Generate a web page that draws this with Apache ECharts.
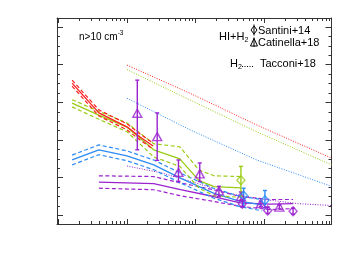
<!DOCTYPE html>
<html><head><meta charset="utf-8">
<script src="https://cdn.jsdelivr.net/npm/echarts@6/dist/echarts.min.js"></script>
<style>html,body{margin:0;padding:0;background:#fff}#c{width:349px;height:262px}</style>
</head><body><div id="c"></div>
<script>
// ---------- DATA (x = log10 stellar mass, y = log10 gas mass) ----------
const redLogM   = [9.20, 9.59, 10.00, 10.19, 10.38];
const redMid    = [11.51, 10.72, 10.35, 10.08, 9.84];
const redHi     = [11.59, 10.80, 10.43, 10.16, 9.92];
const redLo     = [11.43, 10.64, 10.27, 10.00, 9.76];

const greenLogM = [9.20, 9.59, 10.00, 10.39, 10.77, 11.05, 11.27, 11.66];
const greenMid  = [10.98, 10.66, 10.34, 9.74, 9.50, 8.92, 8.76, 8.73];
const greenHi   = [11.07, 10.76, 10.45, 9.90, 9.82, 9.20, 9.05, 9.03];
const greenLo   = [10.88, 10.55, 10.22, 9.55, 9.30, 8.72, 8.52, 8.48];

const blueLogM  = [9.20, 9.59, 10.00, 10.39, 10.78, 11.26, 11.65, 11.97];
const blueMid   = [9.47, 9.74, 9.58, 9.34, 8.99, 8.59, 8.37, 8.28];
const blueHi    = [9.60, 9.87, 9.71, 9.47, 9.12, 8.72, 8.50, 8.42];
const blueLo    = [9.34, 9.61, 9.45, 9.21, 8.86, 8.46, 8.23, 8.12];

const purpleLogM = [9.59, 10.39, 10.78, 11.26, 11.65, 12.09, 12.42];
const purpleMid  = [8.88, 8.84, 8.68, 8.50, 8.33, 8.30, 8.31];
const purpleHi   = [9.05, 9.03, 8.86, 8.68, 8.50, 8.42, 8.42];
const purpleLo   = [8.72, 8.68, 8.52, 8.37, 8.24, 8.15, 8.18];

// Tacconi+18 (H2 only, dotted)
const tacLogM    = [10.00, 10.92, 11.89, 12.98];
const tacRed     = [11.99, 11.24, 10.40, 9.52];
const tacGreen   = [11.87, 11.06, 10.22, 9.34];
const tacBlue    = [11.11, 10.27, 9.47, 8.77];
const tacPurpleLogM = [10.00, 10.50, 11.00, 11.50, 12.00, 12.50, 12.98];
const tacPurple     = [9.31, 9.13, 8.86, 8.58, 8.42, 8.31, 8.26];

// Catinella+18 (triangles) value, lower, upper
const catLogM = [10.15, 10.44, 10.75, 11.06, 11.34, 11.66, 11.95, 12.22];
const catVal  = [10.71, 10.09, 9.14, 9.10, 8.65, 8.50, 8.31, 8.22];
const catLo   = [9.74, 9.46, 8.90, 8.90, 8.50, 8.40, 8.24, 8.17];
const catHi   = [11.59, 10.72, 9.47, 9.39, 8.77, 8.62, 8.38, 8.28];

// Santini+14 (diamonds)
const santGreenLogM = [11.66];  const santGreenVal = [8.93];  const santGreenLo = [8.50];  const santGreenHi = [9.30];
const santBlueLogM  = [11.70, 12.01]; const santBlueVal = [8.52, 8.40]; const santBlueLo = [8.22, 8.20]; const santBlueHi = [8.72, 8.66];
const santPurpleLogM = [11.68, 12.05, 12.42]; const santPurpleVal = [8.31, 8.13, 8.11]; const santPurpleLo = [8.22, 8.05, 8.03]; const santPurpleHi = [8.40, 8.22, 8.19];

// axis ticks
const xMajorLog = [9, 10, 11, 12];
const xMinorMult = [2, 3, 4, 5, 6, 7, 8, 9];
const yMajor = [8, 9, 10, 11, 12, 13];

// ---------- CHART ----------
const RED = '#ff1f1f', GREEN = '#9acc14', BLUE = '#2b8cf5', PURPLE = '#9b22cf';
const FONT = '"Liberation Sans", Arial, sans-serif';
const NARROW = '"Liberation Sans Narrow", "Liberation Sans", Arial, sans-serif';
const X = l => Math.pow(10, l);
const pts = (xs, ys) => xs.map((l, i) => [X(l), ys[i]]);

const xMajor = xMajorLog.map(X);
const xMinor = [];
xMajorLog.forEach(d => xMinorMult.forEach(k => xMinor.push(k * X(d))));
const yMinor = [];
for (let v = 7.75; v <= 13.25; v += 0.25) { if (Math.abs(v - Math.round(v)) > 1e-6) yMinor.push(+v.toFixed(2)); }

const XMIN = X(8.98), XMAX = X(12.98), YMIN = 7.77, YMAX = 13.24;
const AX = '#333';

function xAx(pos, custom, len, line) {
  return { type: 'log', logBase: 10, min: XMIN, max: XMAX, position: pos, gridIndex: 0,
    axisLine: { show: line, lineStyle: { color: AX, width: 1 } },
    axisTick: { show: true, inside: true, length: len, customValues: custom, lineStyle: { color: AX, width: 1 } },
    axisLabel: { show: false }, splitLine: { show: false }, minorTick: { show: false } };
}
function yAx(pos, custom, len, line) {
  return { type: 'value', min: YMIN, max: YMAX, position: pos, gridIndex: 0,
    axisLine: { show: line, onZero: false, lineStyle: { color: AX, width: 1 } },
    axisTick: { show: true, inside: true, length: len, customValues: custom, lineStyle: { color: AX, width: 1 } },
    axisLabel: { show: false }, splitLine: { show: false } };
}

function line(xs, ys, color, type, width) {
  return { type: 'line', data: pts(xs, ys), symbol: 'none', silent: true, smooth: false,
    lineStyle: { color, width, type }, z: 3, xAxisIndex: 0, yAxisIndex: 0 };
}
function band(xs, mid, hi, lo, color) {
  return [line(xs, hi, color, [4, 2.5], 1.2), line(xs, lo, color, [4, 2.5], 1.2), line(xs, mid, color, 'solid', 1.3)];
}
function errBars(xs, val, lo, hi, color) {
  return { type: 'custom', xAxisIndex: 0, yAxisIndex: 0, silent: true, z: 4,
    data: xs.map((l, i) => [X(l), val[i], lo[i], hi[i]]),
    renderItem: (params, api) => {
      const a = api.coord([api.value(0), api.value(2)]);
      const b = api.coord([api.value(0), api.value(3)]);
      const st = { stroke: color, lineWidth: 1.4 };
      return { type: 'group', children: [
        { type: 'line', shape: { x1: a[0], y1: a[1], x2: b[0], y2: b[1] }, style: st },
        { type: 'line', shape: { x1: a[0] - 2, y1: a[1], x2: a[0] + 2, y2: a[1] }, style: st },
        { type: 'line', shape: { x1: b[0] - 2, y1: b[1], x2: b[0] + 2, y2: b[1] }, style: st }
      ] };
    } };
}
function markers(xs, val, color, symbol, size) {
  return { type: 'scatter', data: pts(xs, val), symbol, symbolSize: size, silent: true, z: 5,
    itemStyle: { color: 'rgba(255,255,255,0)', borderColor: color, borderWidth: 1.4 } };
}

const series = [].concat(
  line(tacLogM, tacRed, RED, [1, 1.5], 1),
  line(tacLogM, tacGreen, GREEN, [1, 1.5], 1),
  line(tacLogM, tacBlue, BLUE, [1, 1.5], 1),
  line(tacPurpleLogM, tacPurple, PURPLE, [1, 1.5], 1),
  band(purpleLogM, purpleMid, purpleHi, purpleLo, PURPLE),
  band(blueLogM, blueMid, blueHi, blueLo, BLUE),
  band(greenLogM, greenMid, greenHi, greenLo, GREEN),
  band(redLogM, redMid, redHi, redLo, RED),
  errBars(catLogM, catVal, catLo, catHi, PURPLE),
  errBars(santGreenLogM, santGreenVal, santGreenLo, santGreenHi, GREEN),
  errBars(santBlueLogM, santBlueVal, santBlueLo, santBlueHi, BLUE),
  errBars(santPurpleLogM, santPurpleVal, santPurpleLo, santPurpleHi, PURPLE),
  markers(catLogM, catVal, PURPLE, 'triangle', [9, 8]),
  markers(santGreenLogM, santGreenVal, GREEN, 'diamond', [8, 9]),
  markers(santBlueLogM, santBlueVal, BLUE, 'diamond', [8, 9]),
  markers(santPurpleLogM, santPurpleVal, PURPLE, 'diamond', [8, 9])
);

const txt = (x, y, text, size, align) => ({ type: 'text', x, y, silent: true, z: 10,
  style: { text, font: size + 'px ' + FONT, fill: '#000', align: align || 'left', textAlign: align || 'left',
    verticalAlign: 'middle', textVerticalAlign: 'middle' } });

const graphic = [
  { type: 'text', x: 79, y: 28, silent: true, z: 10,
    style: { text: '{a|n>10 cm}{s|-3}', fill: '#000', rich: {
      a: { fontSize: 10, fontFamily: NARROW, color: '#000', padding: [4, 0, 0, 0] },
      s: { fontSize: 6.5, fontFamily: FONT, color: '#000', padding: [0, 0, 4, 0] } } } },
  // legend glyphs
  { type: 'polygon', shape: { points: [[254, 26], [257, 30], [254, 34], [251, 30]] }, style: { fill: 'none', stroke: '#000', lineWidth: 1 }, silent: true },
  { type: 'line', shape: { x1: 254, y1: 24.5, x2: 254, y2: 35.5 }, style: { stroke: '#000', lineWidth: 1 }, silent: true },
  { type: 'polygon', shape: { points: [[254, 38.5], [257.5, 46], [250.5, 46]] }, style: { fill: 'none', stroke: '#000', lineWidth: 1 }, silent: true },
  { type: 'line', shape: { x1: 254, y1: 37.5, x2: 254, y2: 47 }, style: { stroke: '#000', lineWidth: 1 }, silent: true },
  txt(258, 30.5, 'Santini+14', 11), txt(258, 43, 'Catinella+18', 11),
  txt(219, 37, 'HI+H', 11), txt(244.5, 40.5, '2', 7),
  txt(230, 64, 'H', 11), txt(238, 67.5, '2', 7),
  { type: 'line', shape: { x1: 242, y1: 66.5, x2: 253, y2: 66.5 }, style: { stroke: '#000', lineWidth: 1, lineDash: [1, 1.5] }, silent: true },
  txt(260, 64, 'Tacconi+18', 11)
];

const option = {
  animation: false,
  backgroundColor: '#fff',
  grid: { left: 57, right: 17.5, top: 18, bottom: 38, containLabel: false },
  xAxis: [xAx('bottom', xMajor, 5, true), xAx('bottom', xMinor, 3, false), xAx('top', xMajor, 5, true), xAx('top', xMinor, 3, false)],
  yAxis: [yAx('left', yMajor, 6, true), yAx('left', yMinor, 3, false), yAx('right', yMajor, 6, true), yAx('right', yMinor, 3, false)],
  series,
  graphic
};
const chart = echarts.init(document.getElementById('c'));
chart.setOption(option);
</script></body></html>
